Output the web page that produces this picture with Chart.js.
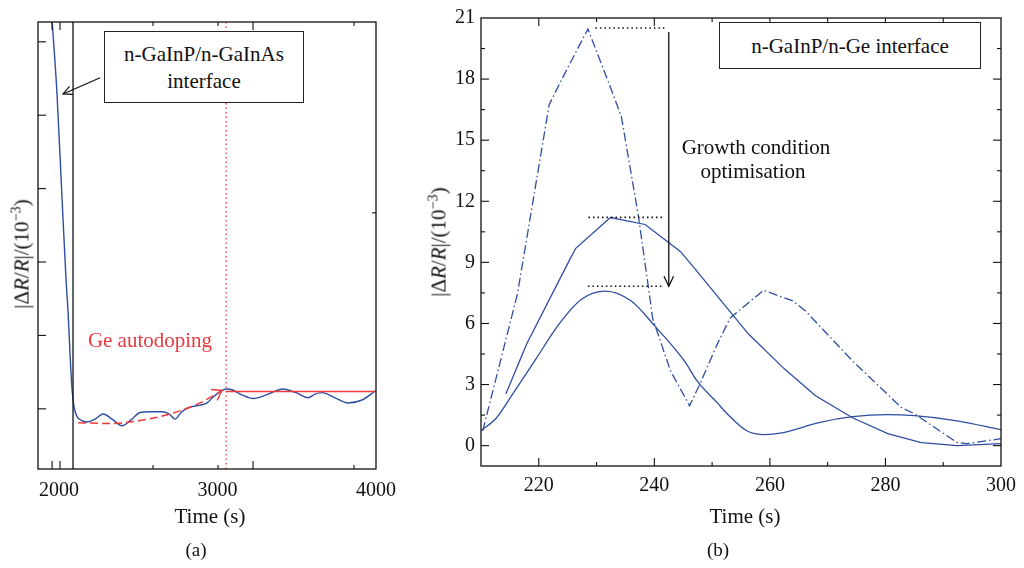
<!DOCTYPE html>
<html><head><meta charset="utf-8">
<script src="https://cdn.jsdelivr.net/npm/chart.js@4.4.1/dist/chart.umd.min.js"></script>
<style>
body{margin:0;background:#fff;}
#wrap{position:relative;width:1024px;height:568px;overflow:hidden;font-family:"Liberation Serif",serif;color:#111;}
canvas{position:absolute;left:0;top:0;}
.t{position:absolute;transform:translate(-50%,-50%);white-space:nowrap;line-height:1;font-size:21px;}
.box{position:absolute;border:1.5px solid #222;background:#fff;box-sizing:border-box;}
.yt{position:absolute;transform:translate(-50%,-50%) rotate(-90deg);white-space:nowrap;line-height:1;font-size:21px;}
sup{font-size:0.68em;line-height:0;vertical-align:0.55em;}
</style></head>
<body><div id="wrap">
<canvas id="ca" width="1024" height="568"></canvas>
<canvas id="cb" width="1024" height="568"></canvas>
<div class="box" style="left:104px;top:31px;width:200px;height:72px;"></div>
<div class="t" style="left:204px;top:54px;">n-GaInP/n-GaInAs</div>
<div class="t" style="left:204px;top:81px;">interface</div>
<div class="t" style="left:150px;top:340px;color:#e83a3f;">Ge autodoping</div>
<div class="yt" style="left:22px;top:254px;">|Δ<i>R</i>/<i>R</i>|/(10<sup>−3</sup>)</div>
<div class="t" style="left:210px;top:516px;">Time (s)</div>
<div class="t" style="left:196px;top:549px;font-size:19px;">(a)</div>
<div class="box" style="left:719px;top:22px;width:262px;height:47px;"></div>
<div class="t" style="left:850px;top:46px;">n-GaInP/n-Ge interface</div>
<div class="t" style="left:756px;top:147px;">Growth condition</div>
<div class="t" style="left:753px;top:171px;">optimisation</div>
<div class="yt" style="left:439px;top:242px;">|Δ<i>R</i>/<i>R</i>|/(10<sup>−3</sup>)</div>
<div class="t" style="left:745px;top:516px;">Time (s)</div>
<div class="t" style="left:718px;top:549px;font-size:19px;">(b)</div>
</div>
<script>
// ---------- Panel (a) data ----------
const leftTime   = [1951,1987,2019,2044,2057,2069,2082,2095,2114,2145,2177,2227,2278,2334,2397,2454,2511,2574,2656,2700,2732,2770,2808,2890,2934,2972,3016,3054,3091,3155,3224,3319,3413,3495,3571,3615,3659,3741,3823,3912,4000];
const leftSignal = [5.44,4.29,2.85,1.76,1.31,0.75,0.26,0.02,-0.11,-0.16,-0.18,-0.14,-0.07,-0.14,-0.23,-0.15,-0.05,-0.04,-0.04,-0.08,-0.14,-0.05,0.01,0.05,0.08,0.16,0.23,0.27,0.26,0.19,0.14,0.20,0.27,0.22,0.15,0.20,0.22,0.15,0.08,0.12,0.25];
const trendTime   = [2120,2322,2511,2700,2890,3028];
const trendSignal = [-0.19,-0.20,-0.16,-0.07,0.08,0.25];
const plateauTime = [3054,4000];
const plateauLevel = 0.236;
const interfaceTime = 2088;
const autodopingEndTime = 3054;
const leftXTicks = [2000,3000,4000];
const leftYTicks = [0,1,2,3,4,5];
const leftXLongTicks = [1956,2006,3224];
const leftXShortTicks = [2593,3003,3861];
const leftYRightTicks = [2.67];
const leftRange = {xmin:1867,xmax:4000,ymin:-0.82,ymax:5.27};

// ---------- Panel (b) data ----------
const dashTime   = [210.3,216.3,221.8,224,228.5,232.4,234.3,237.2,238.9,239.7,242.8,246.1,247.9,250.9,253.1,258.9,264,266.2,274.3,282.8,285,292.4,294.1,300];
const dashSignal = [0.73,7.44,16.74,18.0,20.46,17.6,16.15,11.35,7.93,6.26,3.67,1.96,3.03,4.99,6.26,7.63,7.1,6.6,4.16,1.86,1.57,0.15,0.1,0.34];
const midTime   = [214.3,217.9,225.2,226.4,232.4,238.4,244.5,247.4,250.9,256.3,262.5,267.9,274.3,280.4,286.2,292.4,300];
const midSignal = [2.54,4.99,9.05,9.69,11.2,10.86,9.54,8.56,7.34,5.48,3.77,2.45,1.37,0.59,0.15,0.0,0.1];
const lowTime   = [210,212.7,215.5,219.6,223.5,227.4,231.5,236,240.1,245.2,247.4,250.9,252.6,256,259.1,262.3,268.5,274.3,280.4,285,292.4,300];
const lowSignal = [0.73,1.37,2.54,4.3,5.97,7.19,7.59,7.1,5.87,4.16,3.18,2.1,1.57,0.73,0.54,0.64,1.13,1.42,1.52,1.47,1.22,0.78];
const peakLevels = [20.51,11.21,7.83];
const peakLineStart = [229.8,228.6,228.5];
const peakLineEnd = [241.8,241.6,241.6];
const arrowTime = 242.5;
const arrowFrom = 20.31, arrowTo = 7.83;
const rightXTicks = [220,230,240,250,260,270,280,290];
const rightXLabels = [220,240,260,280,300];
const rightYTicks = [0,1.5,3,4.5,6,7.5,9,10.5,12,13.5,15,16.5,18,19.5,21];
const rightRange = {xmin:210,xmax:300,ymin:-1,ymax:21};

const BLUE = '#2f4ea3', RED = '#ee3a3a', INK = '#111';
const FONT = {family:'Liberation Serif', size:20};

function pts(xs, ys){ return xs.map((x,i)=>({x:x,y:ys[i]})); }
function line(ctx,x0,y0,x1,y1){ ctx.beginPath(); ctx.moveTo(x0,y0); ctx.lineTo(x1,y1); ctx.stroke(); }
function arrowHead(ctx,x0,y0,x1,y1,len,ang){
  const a = Math.atan2(y1-y0,x1-x0);
  ctx.beginPath();
  ctx.moveTo(x1-len*Math.cos(a-ang), y1-len*Math.sin(a-ang));
  ctx.lineTo(x1,y1);
  ctx.lineTo(x1-len*Math.cos(a+ang), y1-len*Math.sin(a+ang));
  ctx.stroke();
}

// ---------- Chart (a) ----------
const plugA = {id:'decoA', afterDatasetsDraw(chart){
  const {ctx, chartArea:a, scales:{x,y}} = chart;
  ctx.save();
  ctx.strokeStyle = INK; ctx.lineWidth = 1.3;
  ctx.strokeRect(a.left, a.top, a.right-a.left, a.bottom-a.top);
  ctx.lineWidth = 1.1;
  leftXLongTicks.forEach(v=>{const p=x.getPixelForValue(v); line(ctx,p,a.bottom,p,a.bottom-8); line(ctx,p,a.top,p,a.top+8);});
  leftXShortTicks.forEach(v=>{const p=x.getPixelForValue(v); line(ctx,p,a.bottom,p,a.bottom-4); line(ctx,p,a.top,p,a.top+4);});
  leftYTicks.forEach(v=>{const p=y.getPixelForValue(v); line(ctx,a.left,p,a.left+8,p);});
  leftYRightTicks.forEach(v=>{const p=y.getPixelForValue(v); line(ctx,a.right,p,a.right-4,p);});
  ctx.lineWidth = 1.2;
  const x0=x.getPixelForValue(2259), y0=y.getPixelForValue(4.51), x1=x.getPixelForValue(2025), y1=y.getPixelForValue(4.29);
  line(ctx,x0,y0,x1,y1); arrowHead(ctx,x0,y0,x1,y1,10,0.45);
  ctx.strokeStyle = RED; ctx.lineWidth = 1.4;
  const n = trendTime.length;
  const tx0=x.getPixelForValue(trendTime[n-2]), ty0=y.getPixelForValue(trendSignal[n-2]);
  const tx1=x.getPixelForValue(trendTime[n-1]), ty1=y.getPixelForValue(trendSignal[n-1]);
  arrowHead(ctx,tx0,ty0,tx1,ty1,11,0.6);
  ctx.restore();
}};

new Chart(document.getElementById('ca'), {
  type:'line',
  data:{datasets:[
    {data:[{x:interfaceTime,y:leftRange.ymin},{x:interfaceTime,y:leftRange.ymax}], borderColor:INK, borderWidth:1.3, pointRadius:0},
    {data:[{x:autodopingEndTime,y:leftRange.ymin},{x:autodopingEndTime,y:leftRange.ymax}], borderColor:RED, borderWidth:1.3, borderDash:[1.5,3], pointRadius:0},
    {data:pts(plateauTime,[plateauLevel,plateauLevel]), borderColor:RED, borderWidth:1.5, pointRadius:0},
    {data:pts(trendTime,trendSignal), borderColor:RED, borderWidth:1.5, borderDash:[8,4], pointRadius:0, cubicInterpolationMode:'monotone'},
    {data:pts(leftTime,leftSignal), borderColor:BLUE, borderWidth:1.4, pointRadius:0, cubicInterpolationMode:'monotone'}
  ]},
  options:{
    responsive:false, animation:false, devicePixelRatio:1,
    layout:{padding:{left:38,top:22,right:648,bottom:59}},
    plugins:{legend:{display:false}, tooltip:{enabled:false}},
    scales:{
      x:{type:'linear', min:leftRange.xmin, max:leftRange.xmax,
         grid:{display:false, drawTicks:false}, border:{display:false},
         afterBuildTicks:s=>{s.ticks = leftXTicks.map(v=>({value:v}));},
         afterFit:s=>{s.height=40;},
         ticks:{font:FONT, color:INK, padding:10, autoSkip:false, maxRotation:0, callback:v=>String(v)}},
      y:{type:'linear', min:leftRange.ymin, max:leftRange.ymax,
         grid:{display:false, drawTicks:false}, border:{display:false},
         ticks:{display:false}, afterFit:s=>{s.width=0;}}
    }
  },
  plugins:[plugA]
});

// ---------- Chart (b) ----------
const plugB = {id:'decoB', afterDatasetsDraw(chart){
  const {ctx, chartArea:a, scales:{x,y}} = chart;
  ctx.save();
  ctx.strokeStyle = INK; ctx.lineWidth = 1.3;
  ctx.strokeRect(a.left, a.top, a.right-a.left, a.bottom-a.top);
  ctx.lineWidth = 1.1;
  rightXTicks.forEach(v=>{const p=x.getPixelForValue(v); const L = rightXLabels.includes(v)?8:4;
    line(ctx,p,a.bottom,p,a.bottom-L); line(ctx,p,a.top,p,a.top+L);});
  rightYTicks.forEach(v=>{ if(v<=rightRange.ymin||v>=rightRange.ymax) return; const p=y.getPixelForValue(v); const L = (v%3===0)?8:4;
    line(ctx,a.left,p,a.left+L,p); line(ctx,a.right,p,a.right-L,p);});
  ctx.lineWidth = 1.3;
  const ax=x.getPixelForValue(arrowTime), ay0=y.getPixelForValue(arrowFrom), ay1=y.getPixelForValue(arrowTo);
  line(ctx,ax,ay0,ax,ay1); arrowHead(ctx,ax,ay0,ax,ay1,11,0.45);
  ctx.restore();
}};

const peakSets = peakLevels.map((lv,i)=>({data:[{x:peakLineStart[i],y:lv},{x:peakLineEnd[i],y:lv}], borderColor:INK, borderWidth:1.6, borderDash:[1.5,3], pointRadius:0}));

new Chart(document.getElementById('cb'), {
  type:'line',
  data:{datasets:[
    ...peakSets,
    {data:pts(dashTime,dashSignal), borderColor:BLUE, borderWidth:1.3, borderDash:[9,3,1.5,3], pointRadius:0, tension:0},
    {data:pts(midTime,midSignal), borderColor:BLUE, borderWidth:1.3, pointRadius:0, tension:0},
    {data:pts(lowTime,lowSignal), borderColor:BLUE, borderWidth:1.3, pointRadius:0, cubicInterpolationMode:'monotone'}
  ]},
  options:{
    responsive:false, animation:false, devicePixelRatio:1,
    layout:{padding:{left:421,top:16,right:17,bottom:62}},
    plugins:{legend:{display:false}, tooltip:{enabled:false}},
    scales:{
      x:{type:'linear', min:rightRange.xmin, max:rightRange.xmax,
         grid:{display:false, drawTicks:false}, border:{display:false},
         afterBuildTicks:s=>{s.ticks = rightXLabels.map(v=>({value:v}));},
         afterFit:s=>{s.height=40;},
         ticks:{font:FONT, color:INK, padding:8, autoSkip:false, maxRotation:0, callback:v=>String(v)}},
      y:{type:'linear', min:rightRange.ymin, max:rightRange.ymax,
         grid:{display:false, drawTicks:false}, border:{display:false},
         afterBuildTicks:s=>{s.ticks = rightYTicks.filter(v=>v%3===0).map(v=>({value:v}));},
         afterFit:s=>{s.width=60;},
         ticks:{font:FONT, color:INK, padding:6, autoSkip:false, callback:v=>String(v)}}
    }
  },
  plugins:[plugB]
});
</script>
</body></html>
